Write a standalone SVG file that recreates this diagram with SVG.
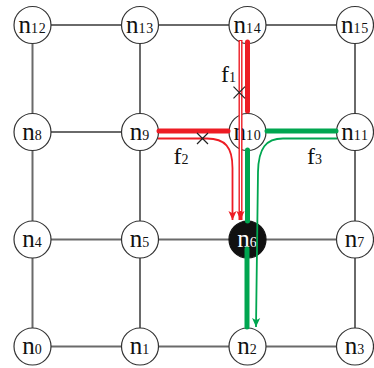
<svg xmlns="http://www.w3.org/2000/svg" width="374" height="368" viewBox="0 0 374 368">
<style>
.edge{stroke:#6a6a6a;stroke-width:2;fill:none}
.node circle{fill:#fff;stroke:#333;stroke-width:1.2}
.node text{font-family:"Liberation Serif","Times New Roman",serif;fill:#111;text-anchor:middle}
.node .n{font-size:25px}
.node .d{font-size:14px;letter-spacing:0.8px}
.node.busy circle{fill:#111;stroke:#111}
.node.busy text{fill:#fff}
.thick{stroke-width:5;stroke-linecap:round;fill:none}
.thin{stroke-width:1.8;fill:none}
.red{stroke:#ed1c24}
.green{stroke:#00a650}
.cross{stroke:#222;stroke-width:1.2}
.lbl{font-family:"Liberation Serif","Times New Roman",serif;fill:#111}
</style>
<defs>
<marker id="ar" viewBox="0 0 10 10" refX="10" refY="5" markerWidth="9" markerHeight="9" markerUnits="userSpaceOnUse" orient="auto"><path d="M0,0.5 L10,5 L0,9.5 L2.5,5 z" fill="#ed1c24"/></marker>
<marker id="ag" viewBox="0 0 10 10" refX="10" refY="5" markerWidth="9" markerHeight="9" markerUnits="userSpaceOnUse" orient="auto"><path d="M0,0.5 L10,5 L0,9.5 L2.5,5 z" fill="#00a650"/></marker>
</defs>
<g id="connectors">
<line class="edge" x1="32.5" y1="25" x2="355" y2="25"/>
<line class="edge" x1="32.5" y1="132" x2="355" y2="132"/>
<line class="edge" x1="32.5" y1="239.5" x2="355" y2="239.5"/>
<line class="edge" x1="32.5" y1="346.5" x2="355" y2="346.5"/>
<line class="edge" x1="32.5" y1="25" x2="32.5" y2="346.5"/>
<line class="edge" x1="140" y1="25" x2="140" y2="346.5"/>
<line class="edge" x1="247.5" y1="25" x2="247.5" y2="346.5"/>
<line class="edge" x1="355" y1="25" x2="355" y2="346.5"/>
</g>
<g id="n12" class="node"><circle cx="32.5" cy="25" r="18.5"/><text x="32.5" y="32.5"><tspan class="n">n</tspan><tspan class="d">12</tspan></text></g>
<g id="n13" class="node"><circle cx="140" cy="25" r="18.5"/><text x="140" y="32.5"><tspan class="n">n</tspan><tspan class="d">13</tspan></text></g>
<g id="n14" class="node"><circle cx="247.5" cy="25" r="18.5"/><text x="247.5" y="32.5"><tspan class="n">n</tspan><tspan class="d">14</tspan></text></g>
<g id="n15" class="node"><circle cx="355" cy="25" r="18.5"/><text x="355" y="32.5"><tspan class="n">n</tspan><tspan class="d">15</tspan></text></g>
<g id="n8" class="node"><circle cx="32.5" cy="132" r="18.5"/><text x="32.5" y="139.5"><tspan class="n">n</tspan><tspan class="d">8</tspan></text></g>
<g id="n9" class="node"><circle cx="140" cy="132" r="18.5"/><text x="140" y="139.5"><tspan class="n">n</tspan><tspan class="d">9</tspan></text></g>
<g id="n10" class="node"><circle cx="247.5" cy="132" r="18.5"/><text x="247.5" y="139.5"><tspan class="n">n</tspan><tspan class="d">10</tspan></text></g>
<g id="n11" class="node"><circle cx="355" cy="132" r="18.5"/><text x="355" y="139.5"><tspan class="n">n</tspan><tspan class="d">11</tspan></text></g>
<g id="n4" class="node"><circle cx="32.5" cy="239.5" r="18.5"/><text x="32.5" y="247"><tspan class="n">n</tspan><tspan class="d">4</tspan></text></g>
<g id="n5" class="node"><circle cx="140" cy="239.5" r="18.5"/><text x="140" y="247"><tspan class="n">n</tspan><tspan class="d">5</tspan></text></g>
<g id="n6" class="node busy"><circle cx="247.5" cy="239.5" r="18.5"/><text x="247.5" y="247"><tspan class="n">n</tspan><tspan class="d">6</tspan></text></g>
<g id="n7" class="node"><circle cx="355" cy="239.5" r="18.5"/><text x="355" y="247"><tspan class="n">n</tspan><tspan class="d">7</tspan></text></g>
<g id="n0" class="node"><circle cx="32.5" cy="346.5" r="18.5"/><text x="32.5" y="354"><tspan class="n">n</tspan><tspan class="d">0</tspan></text></g>
<g id="n1" class="node"><circle cx="140" cy="346.5" r="18.5"/><text x="140" y="354"><tspan class="n">n</tspan><tspan class="d">1</tspan></text></g>
<g id="n2" class="node"><circle cx="247.5" cy="346.5" r="18.5"/><text x="247.5" y="354"><tspan class="n">n</tspan><tspan class="d">2</tspan></text></g>
<g id="n3" class="node"><circle cx="355" cy="346.5" r="18.5"/><text x="355" y="354"><tspan class="n">n</tspan><tspan class="d">3</tspan></text></g>
<g id="flows">
<line class="thick red" x1="247.5" y1="42" x2="247.5" y2="111"/>
<line class="thick red" x1="159" y1="131" x2="228" y2="131"/>
<line class="thick green" x1="267" y1="131" x2="336" y2="131"/>
<line class="thick green" x1="247.5" y1="150" x2="247.5" y2="221"/>
<line class="thick green" x1="247" y1="249" x2="247" y2="327"/>
<path class="red" d="M240.5,40 V220" stroke-width="4" fill="none" marker-end="url(#ar)"/>
<path d="M240.5,41 V211" stroke="#fff" stroke-width="1.2" fill="none"/>
<path class="thin red" d="M158,138.5 H207 C225,138.5 232.5,147 232.5,168 V220" marker-end="url(#ar)"/>
<path class="thin green" d="M337,138.5 H283 C266,138.5 258.5,148 258,172 L256,327" marker-end="url(#ag)"/>
<path class="cross" d="M233.5,86.7 L245,98.3 M245,86.7 L233.5,98.3"/>
<path class="cross" d="M197,133 L208,144 M208,133 L197,144"/>
</g>
<g id="labels">
<text class="lbl" x="221" y="81.5"><tspan font-size="24">f</tspan><tspan font-size="14">1</tspan></text>
<text class="lbl" x="173.5" y="163.5"><tspan font-size="24">f</tspan><tspan font-size="14">2</tspan></text>
<text class="lbl" x="307" y="163.5"><tspan font-size="24">f</tspan><tspan font-size="14">3</tspan></text>
</g>
</svg>
